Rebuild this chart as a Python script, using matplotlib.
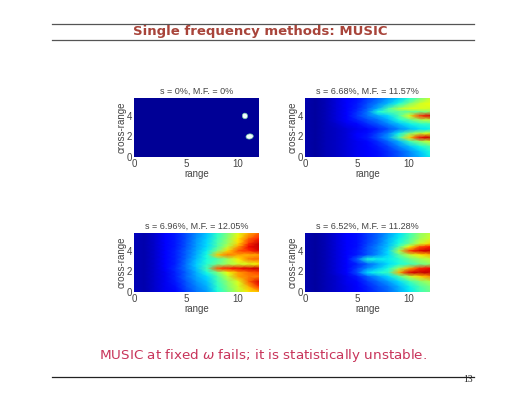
import matplotlib
matplotlib.use('Agg')
import matplotlib.pyplot as plt
from matplotlib.patches import Ellipse
import numpy as np

range_pts = [0, 1, 2, 3, 4, 5, 6, 7, 8, 9, 10, 11, 12]
cross_pts = [5.75, 5.2, 4.7, 4.4, 4.0, 3.6, 3.2, 2.7, 2.3, 1.9, 1.5, 1.0, 0.5, 0.0]

titles = ['s = 0%, M.F. = 0%', 's = 6.68%, M.F. = 11.57%',
          's = 6.96%, M.F. = 12.05%', 's = 6.52%, M.F. = 11.28%']

# first panel is flat with two small spots
spot_range = [10.65, 11.1]
spot_cross = [4.0, 2.0]
spot_w = [0.5, 0.7]
spot_h = [0.55, 0.5]
panel1 = [[0.02] * 13 for c in cross_pts]

panel2 = [
    [.05, .03, .05, .08, .11, .14, .18, .22, .27, .32, .38, .48, .58],
    [.04, .03, .05, .08, .12, .15, .20, .25, .31, .38, .50, .60, .64],
    [.04, .03, .05, .08, .12, .16, .22, .30, .44, .56, .62, .62, .60],
    [.04, .03, .05, .08, .12, .17, .24, .38, .44, .46, .46, .48, .52],
    [.04, .03, .05, .08, .12, .18, .24, .29, .34, .44, .62, .84, .92],
    [.04, .03, .05, .08, .11, .16, .20, .24, .30, .38, .46, .54, .58],
    [.04, .03, .05, .07, .10, .13, .17, .21, .26, .31, .36, .40, .42],
    [.04, .03, .05, .06, .08, .10, .13, .16, .20, .25, .30, .34, .36],
    [.04, .03, .05, .06, .08, .11, .14, .19, .25, .36, .50, .58, .62],
    [.04, .03, .05, .06, .08, .11, .15, .21, .28, .44, .68, .90, .94],
    [.04, .03, .05, .06, .08, .10, .13, .17, .23, .30, .42, .52, .60],
    [.04, .03, .05, .06, .08, .10, .12, .15, .19, .25, .31, .37, .44],
    [.04, .03, .05, .06, .08, .10, .12, .14, .17, .21, .26, .32, .38],
    [.05, .03, .05, .06, .08, .10, .12, .14, .17, .21, .25, .30, .36],
]

panel3 = [
    [.06, .04, .07, .11, .15, .20, .26, .32, .40, .50, .62, .72, .80],
    [.05, .04, .07, .11, .15, .20, .27, .33, .42, .52, .66, .80, .88],
    [.05, .04, .07, .11, .15, .21, .28, .34, .44, .54, .68, .86, .94],
    [.05, .04, .07, .11, .15, .21, .28, .34, .44, .58, .74, .90, .94],
    [.05, .04, .07, .11, .16, .22, .29, .36, .50, .68, .82, .86, .92],
    [.05, .04, .07, .11, .16, .22, .30, .38, .70, .78, .74, .72, .74],
    [.05, .04, .07, .11, .16, .23, .31, .38, .44, .54, .66, .78, .80],
    [.05, .04, .07, .11, .16, .24, .33, .40, .48, .55, .60, .62, .66],
    [.05, .04, .07, .11, .17, .24, .32, .44, .82, .88, .90, .92, .94],
    [.05, .04, .07, .10, .16, .22, .30, .38, .50, .64, .74, .80, .84],
    [.05, .04, .07, .10, .16, .23, .29, .34, .44, .58, .74, .78, .78],
    [.05, .04, .07, .10, .15, .21, .27, .32, .42, .52, .62, .80, .92],
    [.05, .04, .07, .10, .14, .20, .25, .30, .40, .50, .60, .72, .86],
    [.06, .04, .07, .10, .13, .18, .24, .28, .38, .48, .58, .66, .70],
]

panel4 = [
    [.05, .03, .05, .08, .11, .14, .18, .22, .28, .34, .42, .52, .58],
    [.04, .03, .05, .08, .11, .14, .18, .23, .30, .36, .44, .54, .60],
    [.04, .03, .05, .08, .11, .14, .19, .24, .31, .38, .48, .60, .68],
    [.04, .03, .05, .08, .11, .14, .20, .26, .32, .44, .64, .82, .88],
    [.04, .03, .05, .08, .11, .15, .21, .26, .34, .56, .84, .92, .94],
    [.04, .03, .05, .08, .11, .15, .21, .27, .34, .46, .58, .66, .72],
    [.04, .03, .05, .08, .12, .22, .38, .36, .36, .40, .48, .54, .58],
    [.04, .03, .05, .08, .11, .16, .22, .28, .34, .38, .42, .48, .52],
    [.04, .03, .05, .08, .12, .18, .26, .32, .38, .54, .72, .86, .90],
    [.04, .03, .05, .08, .12, .20, .34, .38, .42, .72, .92, .94, .94],
    [.04, .03, .05, .07, .10, .15, .22, .28, .34, .44, .58, .68, .76],
    [.04, .03, .05, .07, .10, .13, .18, .23, .28, .34, .42, .50, .56],
    [.04, .03, .05, .07, .09, .12, .16, .20, .24, .30, .36, .44, .50],
    [.05, .03, .05, .07, .09, .12, .15, .19, .23, .29, .35, .42, .48],
]

panels = [panel1, panel2, panel3, panel4]
W, H = 517.0, 400.0
# left, top in pixels
boxes = [(134, 98), (305, 98), (134, 233), (305, 233)]
grey = '#444444'

fig = plt.figure(figsize=(5.17, 4.0), dpi=100)
plt.rcParams['font.family'] = ['Liberation Sans', 'DejaVu Sans']

for i in range(4):
    left, top = boxes[i]
    ax = fig.add_axes([left / W, 1 - (top + 59) / H, 125 / W, 59 / H])
    ax.pcolormesh(range_pts, cross_pts, np.array(panels[i]), cmap='jet', vmin=0, vmax=1,
                  shading='gouraud')
    if i == 0:
        for k in range(2):
            ax.add_patch(Ellipse((spot_range[k], spot_cross[k]), spot_w[k], spot_h[k], angle=10,
                                 facecolor='#f4fbff', edgecolor='#70c8a8', lw=0.5))
    ax.set_xlim(0, 12)
    ax.set_ylim(0, 5.75)
    ax.set_xticks([0, 5, 10])
    ax.set_yticks([0, 2, 4])
    ax.tick_params(length=0, labelsize=7, pad=1.5, colors=grey)
    for s in ax.spines.values():
        s.set_visible(False)
    ax.set_xlabel('range', fontsize=7, labelpad=0, color=grey)
    ax.set_ylabel('cross-range', fontsize=7, labelpad=0, color=grey)
    ax.set_title(titles[i], fontsize=6.5, pad=3, color=grey)

# slide furniture
for y, c in [(24, '#555555'), (40, '#555555'), (377, '#222222')]:
    fig.add_artist(plt.Line2D([52 / W, 474 / W], [1 - y / H, 1 - y / H], color=c, lw=0.9))
fig.text(260 / W, 1 - 32 / H, 'Single frequency methods: MUSIC', ha='center', va='center',
         fontsize=9.5, color='#a8443a', family='DejaVu Sans', fontweight='bold')
fig.text(263 / W, 1 - 355 / H, r'MUSIC at fixed $\omega$ fails; it is statistically unstable.',
         ha='center', va='center', fontsize=9.7, color='#c8345a', family='DejaVu Sans')
fig.text(468 / W, 1 - 379 / H, '13', ha='center', va='center', fontsize=7, color='#222222',
         family='Liberation Serif')

fig.savefig('out.png', dpi=100)
